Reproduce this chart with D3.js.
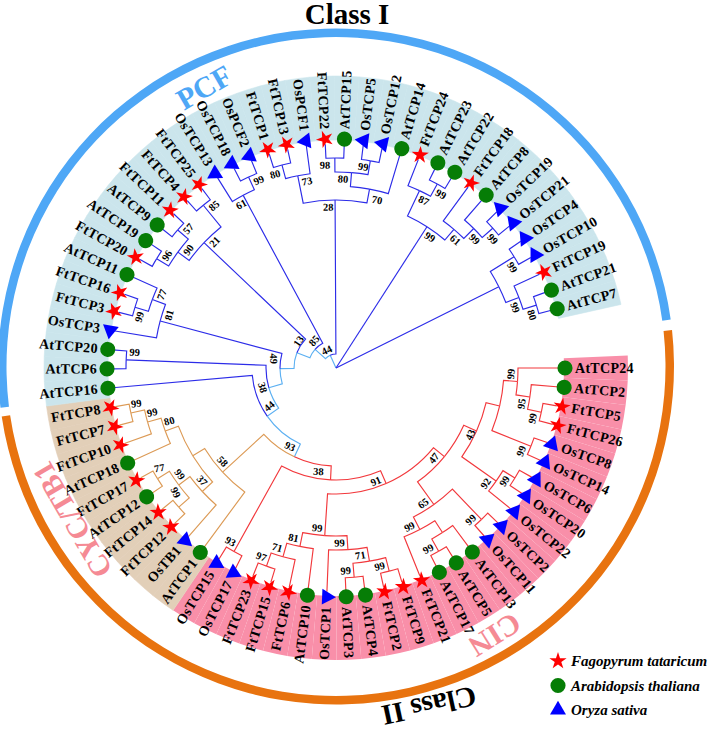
<!DOCTYPE html>
<html>
<head>
<meta charset="utf-8">
<script src="https://cdn.jsdelivr.net/npm/d3@7/dist/d3.min.js"></script>
<style>
  html, body { margin: 0; padding: 0; background: #fff; }
  text { font-family: "Liberation Serif", serif; }
</style>
</head>
<body>
<div id="tree"></div>
<script>
// leaf names, clockwise from the gap on the right
const leafNames = [
  "AtTCP24","AtTCP2","FtTCP5","FtTCP26","OsTCP8","OsTCP14","OsTCP6","OsTCP20","OsTCP22","OsTCP2",
  "OsTCP11","AtTCP13","AtTCP5","AtTCP17","FtTCP21","FtTCP9","FtTCP2","AtTCP4","AtTCP3","OsTCP1",
  "AtTCP10","FtTCP6","FtTCP15","FtTCP23","OsTCP17","OsTCP15",
  "AtTCP1","OsTB1","FtTCP12","FtTCP14","AtTCP12","FtTCP17","AtTCP18","FtTCP10","FtTCP7","FtTCP8",
  "AtTCP16","AtTCP6","AtTCP20","OsTCP3","FtTCP3","FtTCP16","AtTCP11","FtTCP20","AtTCP19","AtTCP9",
  "FtTCP11","FtTCP4","FtTCP25","OsTCP13","OsTCP18","OsPCF2","FtTCP1","FtTCP13","OsPCF1","FtTCP22",
  "AtTCP15","OsTCP5","OsTCP12","AtTCP14","FtTCP24","AtTCP23","AtTCP22","FtTCP18","AtTCP8","OsTCP19",
  "OsTCP21","OsTCP4","OsTCP10","FtTCP19","AtTCP21","AtTCP7"
];

// subfamilies: name and number of leaves, in leaf order
const cladeNames = ["CIN", "CYC/TB1", "PCF"];
const cladeSizes = [26, 10, 36];

// tree topology: [child, child, bootstrap], numbers are indexes into leafNames
const cinUpper = [[[0,[1,[2,3,99],95],99],[4,5,99],null],[[6,7,99],8,92],43];
const cinMiddle = [[9,10,99],[[[12,13,99],11,null],14,99],65];
const cinLower = [[[[22,23,97],21,71],20,81],[19,[[15,16,99],[17,18,99],71],99],99];
const cinClade = [[[cinUpper,cinMiddle,47],cinLower,91],[24,25,93],38];
const cycClade = [[[[[34,35,99],33,99],32,80],[[[30,31,77],[28,29,99],99],27,37],null],26,58];
const classTwo = [cycClade,cinClade,93];
const pcfA = [[[37,38,99],[36,classTwo,44],38],[39,[[40,41,99],42,77],81],49];
const pcfB = [[47,48,85],[[43,44,96],[45,46,57],90],21];
const pcfC = [49,[50,51,99],61];
const pcfD = [[[52,53,80],54,73],[[[55,56,98],[57,58,99],80],59,70],28];
const pcfE = [[60,[61,62,99],87],[63,[64,[65,66,99],99],61],99];
const pcfF = [[67,68,99],[69,[70,71,80],99],null];
const treeData = [[[[pcfA,pcfB,13],pcfC,85],pcfD,44],pcfE,pcfF,null];

// legend
const speciesNames = ["Fagopyrum tataricum", "Arabidopsis thaliana", "Oryza sativa"];

// bootstrap labels that do not sit at the default spot, key is first-last leaf
// dt = along the arc, dr = along the radius, rot = text angle
const labelTweaks = {
  "52-53": {dt: -9}, "55-56": {dt: -10}, "57-58": {dt: -6}, "55-58": {dt: -8},
  "52-59": {dt: -7}, "49-51": {dt: -6}, "40-41": {dt: -8}, "0-3": {dt: -7},
  "37-38": {dr: -8, rot: 3}, "0-42": {dt: 10, dr: 7}, "0-38": {dt: 2, dr: 6},
  "0-36": {dt: 7, rot: -40}, "0-35": {dt: 8.5}, "0-25": {dt: 12.5}, "0-48": {dt: 11.5, dr: 4, rot: -55},
  "0-51": {dt: 6, dr: 7, rot: -48}, "0-59": {dt: -1, dr: 6, rot: -25}, "0-8": {dt: 6, dr: -4},
  "0-23": {dt: 8.5, dr: -6}, "34-35": {rot: -8}, "33-35": {rot: -12}, "32-35": {rot: -15},
  "30-31": {rot: -10}, "28-29": {dt: 13, rot: 65}, "55-59": {dt: 9.5, dr: -9}
};

const width = 708, height = 729;
const cx = 336, cy = 368;

const speciesColor = {Ft: "#ff0000", At: "#067d06", Os: "#0000ff"};
const sectorColor = {"CIN": "#f98fa9", "CYC/TB1": "#e2cfb8", "PCF": "#cbe5ec"};
const branchColor = {"CIN": "#f2383c", "CYC/TB1": "#dc9a55", "PCF": "#2c2ce8"};
const backbone = "#5cb0f2";

// leaf index -> angle in degrees clockwise from north, node height -> radius
const angle = d3.scaleLinear().domain([0, leafNames.length - 1]).range([90, 435]);
const radius = d3.scaleLinear().domain([16, 0]).range([0, 224]);
const step = angle(1) - angle(0);
const rad = d => d * Math.PI / 180;

function cladeOf(i) {
  let end = 0;
  for (let k = 0; k < cladeNames.length; k++) {
    end += cladeSizes[k];
    if (i < end) return cladeNames[k];
  }
}

var svg = d3.select("#tree")
  .append("svg")
  .attr("width", width)
  .attr("height", height);

var chartGroup = svg.append("g")
  .attr("transform", `translate(${cx}, ${cy})`);

// coloured background, one sector per leaf
var sector = d3.arc().innerRadius(228).outerRadius(292);
chartGroup.append("g")
  .selectAll("path")
  .data(leafNames)
  .enter()
  .append("path")
  .attr("d", (d, i) => sector({
    startAngle: rad(angle(i) - step / 2),
    endAngle: rad(angle(i) + step / 2)
  }))
  .attr("fill", (d, i) => sectorColor[cladeOf(i)])
  .attr("stroke", (d, i) => cladeOf(i) == "CIN" ? "none" : sectorColor[cladeOf(i)])
  .attr("stroke-width", 0.6);

// outer ring
var ring = d3.arc().innerRadius(329.5).outerRadius(338);
chartGroup.append("path")
  .attr("transform", "translate(0, -1.5)")
  .attr("d", ring({startAngle: rad(-97), endAngle: rad(82)}))
  .attr("fill", "#4ea7f6");
chartGroup.append("path")
  .attr("transform", "translate(0, -1.5)")
  .attr("d", ring({startAngle: rad(83.8), endAngle: rad(261.5)}))
  .attr("fill", "#e8730f");

// tree layout: angle is the middle of the children, radius comes from node height
var root = d3.hierarchy(treeData, d => Array.isArray(d) ? d.slice(0, -1) : null);
root.eachAfter(function(n) {
  n.leafIds = n.children ? n.leaves().map(l => l.data) : [n.data];
  n.first = d3.min(n.leafIds);
  n.last = d3.max(n.leafIds);
  n.angle = n.children ? d3.mean(n.children, c => c.angle) : angle(n.data);
  n.r = radius(n.height);
  var names = new Set(n.leafIds.map(cladeOf));
  n.color = names.size == 1 ? branchColor[cladeOf(n.first)] : backbone;
});

var point = (a, r) => d3.pointRadial(rad(a), r);
var branches = chartGroup.append("g").attr("fill", "none").attr("stroke-width", 1.15);

// dark branches go on top of the light backbone
var edges = root.descendants().filter(n => n.parent)
  .sort((a, b) => (a.color == backbone ? 0 : 1) - (b.color == backbone ? 0 : 1));

branches.selectAll("path")
  .data(edges)
  .enter()
  .append("path")
  .attr("stroke", d => d.color)
  .attr("d", function(d) {
    var p = d.parent;
    var path = d3.path();
    if (p.parent) {
      // half of the parent arc
      var a0 = rad(p.angle - 90), a1 = rad(d.angle - 90);
      path.arc(0, 0, p.r, a0, a1, a1 < a0);
    } else {
      path.moveTo(0, 0);
    }
    var end = point(d.angle, d.r);
    path.lineTo(end[0], end[1]);
    return path.toString();
  });

// bootstrap values
var labelled = root.descendants().filter(n => n.children && n.data[n.data.length - 1] != null);
chartGroup.append("g")
  .selectAll("text")
  .data(labelled)
  .enter()
  .append("text")
  .attr("transform", function(d) {
    var tweak = labelTweaks[d.first + "-" + d.last] || {};
    var dt = tweak.dt === undefined ? 8 : tweak.dt;
    var dr = tweak.dr === undefined ? -7 : tweak.dr;
    var r = d.r + dr;
    var a = d.angle + dt / r * 180 / Math.PI;
    var pos = point(a, r);
    var norm = (d.angle + 360) % 360;
    var rot = tweak.rot !== undefined ? tweak.rot : (norm > 90 && norm < 270 ? norm - 180 : norm);
    return `translate(${pos[0]}, ${pos[1]}) rotate(${rot})`;
  })
  .attr("text-anchor", "middle")
  .attr("dominant-baseline", "central")
  .style("font-size", "10.5px")
  .style("font-weight", "bold")
  .text(d => d.data[d.data.length - 1]);

// species markers, same frame as the leaf text
function marker(sel, prefix) {
  if (prefix == "Ft") {
    sel.attr("d", d3.symbol(d3.symbolStar, 92)());
  } else if (prefix == "At") {
    sel.attr("d", d3.symbol(d3.symbolCircle, 180)());
  } else {
    sel.attr("d", d3.symbol(d3.symbolTriangle, 110)());
  }
  sel.attr("fill", speciesColor[prefix]);
}

var leaves = chartGroup.append("g")
  .selectAll("g")
  .data(leafNames)
  .enter()
  .append("g");

leaves.append("path")
  .each(function(d) { marker(d3.select(this), d.slice(0, 2)); })
  .attr("transform", function(d, i) {
    var pos = point(angle(i), 229);
    return `translate(${pos[0]}, ${pos[1]}) rotate(${angle(i) - 90})`;
  });

leaves.append("text")
  .attr("transform", function(d, i) {
    var a = (angle(i) + 360) % 360;
    var pos = point(angle(i), 239);
    return `translate(${pos[0]}, ${pos[1]}) rotate(${a < 180 ? a - 90 : a + 90})`;
  })
  .attr("text-anchor", (d, i) => ((angle(i) + 360) % 360) < 180 ? "start" : "end")
  .attr("dominant-baseline", "central")
  .style("font-size", "14px")
  .style("letter-spacing", "0.3px")
  .style("font-weight", "bold")
  .text(d => d);

// class and subfamily titles
function title(txt, x, y, rot, size, color) {
  svg.append("text")
    .attr("transform", `translate(${x}, ${y}) rotate(${rot})`)
    .attr("text-anchor", "middle")
    .attr("dominant-baseline", "central")
    .style("font-size", size + "px")
    .style("font-weight", "bold")
    .style("fill", color)
    .text(txt);
}
title("Class I", 347, 14, 0, 29, "#000");
title("Class II", 429, 706, 167.7, 29, "#000");
title(cladeNames[2], 204, 87, -30, 30, "#4ea7f6");
title(cladeNames[1], 72, 520, -120, 30, "#f58a94");
title(cladeNames[0], 495, 635, 148, 30, "#f58a94");

// legend
var legendY = d3.scalePoint().domain(speciesNames).range([661, 710]);
var legend = svg.append("g")
  .selectAll("g")
  .data(speciesNames)
  .enter()
  .append("g")
  .attr("transform", d => `translate(558, ${legendY(d)})`);

legend.append("path")
  .each(function(d, i) { marker(d3.select(this), ["Ft", "At", "Os"][i]); });

legend.append("text")
  .attr("x", 13)
  .attr("dominant-baseline", "central")
  .style("font-size", "15px")
  .style("font-weight", "bold")
  .style("font-style", "italic")
  .text(d => d);
</script>
</body>
</html>
